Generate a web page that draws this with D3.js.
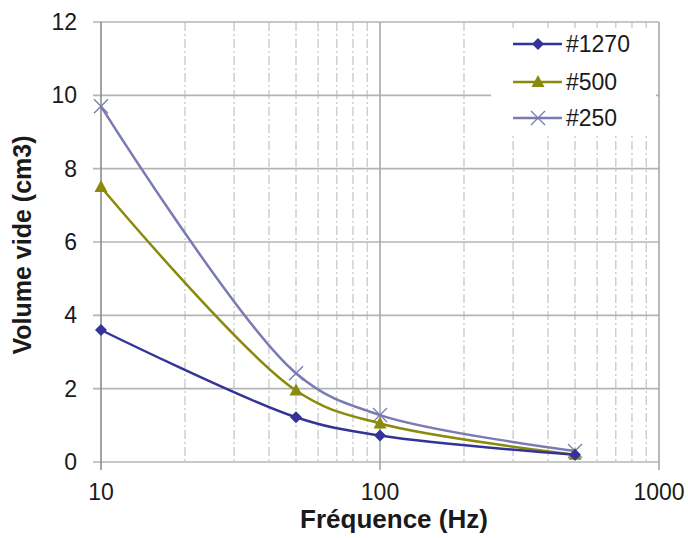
<!DOCTYPE html>
<html>
<head>
<meta charset="utf-8">
<script src="https://cdn.jsdelivr.net/npm/d3@7"></script>
<style>
  body { margin: 0; background: #fff; }
  text { font-family: "Liberation Sans", Arial, sans-serif; }
</style>
</head>
<body>
<svg id="chart" width="688" height="538"></svg>
<script>
// data
var freqs = [10, 50, 100, 500];
var s1270 = [3.6, 1.22, 0.72, 0.2];
var s500 = [7.5, 1.95, 1.05, 0.2];
var s250 = [9.7, 2.42, 1.28, 0.3];
var seriesNames = ["#1270", "#500", "#250"];
var seriesColors = ["#333399", "#8a8a0c", "#7a7ab4"];
var seriesShapes = ["diamond", "triangle", "cross"];
var yTicks = [0, 2, 4, 6, 8, 10, 12];
var xTicks = [10, 100, 1000];

var svg = d3.select("#chart");
var plotLeft = 101, plotRight = 659, plotTop = 22, plotBottom = 462;

var x = d3.scaleLog().domain([10, 1000]).range([plotLeft, plotRight]);
var y = d3.scaleLinear().domain([0, 12]).range([plotBottom, plotTop]);

// minor vertical grid (dash-dot)
var minor = [];
[10, 100].forEach(function (d) {
  for (var k = 2; k <= 9; k++) minor.push(d * k);
});
svg.append("g").selectAll("line").data(minor).enter().append("line")
  .attr("x1", function (d) { return x(d); }).attr("x2", function (d) { return x(d); })
  .attr("y1", plotTop).attr("y2", plotBottom)
  .attr("stroke", "#c8c8c8").attr("stroke-width", 1.3)
  .attr("stroke-dasharray", "9,3,2,3");

// horizontal grid
svg.append("g").selectAll("line").data(yTicks).enter().append("line")
  .attr("x1", plotLeft - 8).attr("x2", plotRight)
  .attr("y1", function (d) { return y(d); }).attr("y2", function (d) { return y(d); })
  .attr("stroke", "#b4b4b4").attr("stroke-width", 1.6);

// major vertical grid
svg.append("g").selectAll("line").data(xTicks).enter().append("line")
  .attr("x1", function (d) { return x(d); }).attr("x2", function (d) { return x(d); })
  .attr("y1", plotTop).attr("y2", plotBottom + 8)
  .attr("stroke", function (d, i) { return i == 0 ? "#8c8c8c" : "#a8a8a8"; })
  .attr("stroke-width", 1.6);

// y tick labels
svg.append("g").selectAll("text").data(yTicks).enter().append("text")
  .attr("x", 77).attr("y", function (d) { return y(d) + 8; })
  .attr("text-anchor", "end").attr("font-size", 23).attr("fill", "#1a1a1a")
  .text(function (d) { return d; });

// x tick labels
svg.append("g").selectAll("text").data(xTicks).enter().append("text")
  .attr("x", function (d) { return x(d); }).attr("y", 500)
  .attr("text-anchor", "middle").attr("font-size", 23).attr("fill", "#1a1a1a")
  .text(function (d) { return d; });

// axis titles
svg.append("text").attr("x", 394).attr("y", 528)
  .attr("text-anchor", "middle").attr("font-size", 26).attr("font-weight", "bold")
  .attr("fill", "#1a1a1a").text("Fréquence (Hz)");
svg.append("text").attr("transform", "translate(31,245) rotate(-90)")
  .attr("text-anchor", "middle").attr("font-size", 25).attr("font-weight", "bold")
  .attr("fill", "#1a1a1a").text("Volume vide (cm3)");

// legend background
svg.append("rect").attr("x", 491).attr("y", 28).attr("width", 165).attr("height", 106)
  .attr("fill", "#fff");

function marker(g, shape, color, cx, cy) {
  if (shape == "diamond") {
    g.append("path").attr("d", "M0,-6L6,0L0,6L-6,0Z")
      .attr("transform", "translate(" + cx + "," + cy + ")")
      .attr("fill", color);
  } else if (shape == "triangle") {
    g.append("path").attr("d", "M0,-7L6.5,5L-6.5,5Z")
      .attr("transform", "translate(" + cx + "," + cy + ")")
      .attr("fill", color);
  } else {
    g.append("path").attr("d", "M-7,-7L7,7M-7,7L7,-7")
      .attr("transform", "translate(" + cx + "," + cy + ")")
      .attr("stroke", color).attr("stroke-width", 1.3).attr("fill", "none");
  }
}

var allSeries = [s1270, s500, s250];
var line = d3.line()
  .x(function (d, i) { return x(freqs[i]); })
  .y(function (d) { return y(d); })
  .curve(d3.curveCatmullRom.alpha(0.5));

// draw back to front so #1270 ends on top like the picture
[2, 1, 0].forEach(function (s) {
  var g = svg.append("g");
  g.append("path").datum(allSeries[s]).attr("d", line)
    .attr("fill", "none").attr("stroke", seriesColors[s]).attr("stroke-width", 2.5);
  allSeries[s].forEach(function (v, i) {
    marker(g, seriesShapes[s], seriesColors[s], x(freqs[i]), y(v));
  });
});

// legend entries
var legendY = [44, 82, 118];
seriesNames.forEach(function (name, i) {
  var g = svg.append("g");
  g.append("line").attr("x1", 513).attr("x2", 562)
    .attr("y1", legendY[i]).attr("y2", legendY[i])
    .attr("stroke", seriesColors[i]).attr("stroke-width", 2.5);
  marker(g, seriesShapes[i], seriesColors[i], 538, legendY[i]);
  g.append("text").attr("x", 566).attr("y", legendY[i] + 8)
    .attr("font-size", 23).attr("fill", "#1a1a1a").text(name);
});
</script>
</body>
</html>
